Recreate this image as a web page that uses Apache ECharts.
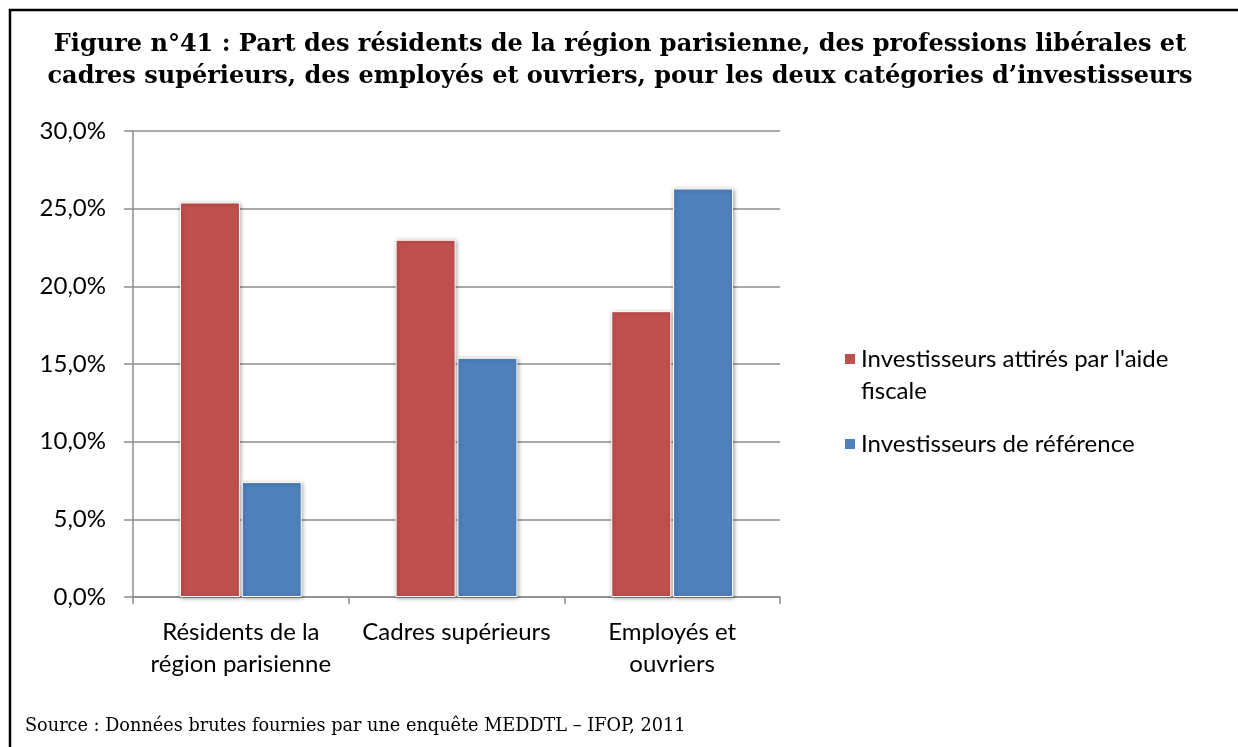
<!DOCTYPE html>
<html>
<head>
    <meta charset="UTF-8">
    <title></title>
    <script src="https://cdn.jsdelivr.net/npm/echarts@6/dist/echarts.min.js"></script>
    <style>
        html, body { margin: 0; padding: 0; background: #fff; }
    </style>
</head>
<body>
<div id="main" style="width: 1238px;height:747px;"></div>
<script type="text/javascript">
    // données
    var categories = ['Résidents de la\nrégion parisienne', 'Cadres supérieurs', 'Employés et\nouvriers'];
    var seriesNames = ["Investisseurs attirés par l'aide fiscale", 'Investisseurs de référence'];
    var aideFiscale = [25.4, 23.0, 18.4];
    var reference = [7.4, 15.4, 26.3];
    var yTicks = { min: 0, max: 30, interval: 5 };

    var titleText = 'Figure n°41 : Part des résidents de la région parisienne, des professions libérales et\ncadres supérieurs, des employés et ouvriers, pour les deux catégories d\u2019investisseurs';
    var sourceText = 'Source : Données brutes fournies par une enquête MEDDTL \u2013 IFOP, 2011';

    var sansFont = 'Lato';
    var serifFont = 'DejaVu Serif';

    var myChart = echarts.init(document.getElementById('main'));

    function barStyle(color) {
        return {
            color: color,
            borderColor: '#ffffff',
            borderWidth: 1,
            shadowBlur: 4,
            shadowColor: 'rgba(0,0,0,0.35)',
            shadowOffsetX: 1,
            shadowOffsetY: 1
        };
    }

    var legendText = { fontFamily: sansFont, fontSize: 24, lineHeight: 32, color: '#000' };

    var option = {
        animation: false,
        backgroundColor: '#ffffff',
        legend: [{
            orient: 'vertical',
            left: 838,
            top: 306,
            itemWidth: 12,
            itemHeight: 12,
            icon: 'rect',
            data: [seriesNames[0]],
            // ligne vide en tête : la 1re ligne reste alignée sur le carré
            formatter: function (name) {
                return '\n' + name.replace("l'aide fiscale", "l'aide\nfiscale");
            },
            textStyle: legendText
        }, {
            orient: 'vertical',
            left: 838,
            top: 423,
            itemWidth: 12,
            itemHeight: 12,
            icon: 'rect',
            data: [seriesNames[1]],
            textStyle: legendText
        }],
        grid: {
            left: 133,
            right: 458,
            top: 131,
            bottom: 150,
            containLabel: false
        },
        xAxis: {
            type: 'category',
            data: categories,
            axisLine: { lineStyle: { color: '#8c8c8c', width: 1.5 } },
            axisTick: { show: true, length: 7, lineStyle: { color: '#8c8c8c', width: 1.5 } },
            axisLabel: {
                margin: 19,
                fontFamily: sansFont,
                fontSize: 24,
                lineHeight: 32,
                color: '#000',
                interval: 0
            }
        },
        yAxis: {
            type: 'value',
            min: yTicks.min,
            max: yTicks.max,
            interval: yTicks.interval,
            axisLine: { show: true, lineStyle: { color: '#8c8c8c', width: 1.5 } },
            axisTick: { show: true, length: 9, lineStyle: { color: '#8c8c8c', width: 1.5 } },
            splitLine: { show: true, lineStyle: { color: '#8c8c8c', width: 1.5 } },
            axisLabel: {
                margin: 27,
                fontFamily: sansFont,
                fontSize: 24,
                color: '#000',
                formatter: function (v) {
                    return v.toFixed(1).replace('.', ',') + '%';
                }
            }
        },
        series: [{
            name: seriesNames[0],
            type: 'bar',
            data: aideFiscale,
            barWidth: 60,
            barGap: '3%',
            itemStyle: barStyle('#C0504D')
        }, {
            name: seriesNames[1],
            type: 'bar',
            data: reference,
            barWidth: 60,
            itemStyle: barStyle('#4F81BD')
        }],
        graphic: [{
            type: 'polyline',
            shape: { points: [[10, 747], [10, 10], [1238, 10]] },
            style: { stroke: '#000', lineWidth: 2.5, fill: null }
        }, {
            type: 'text',
            x: 620,
            y: 29,
            style: {
                text: titleText,
                align: 'center',
                verticalAlign: 'top',
                fontFamily: serifFont,
                fontWeight: 'bold',
                fontSize: 24,
                lineHeight: 32,
                fill: '#000'
            }
        }, {
            type: 'text',
            x: 25,
            y: 726,
            style: {
                text: sourceText,
                verticalAlign: 'middle',
                fontFamily: serifFont,
                fontSize: 17.7,
                fill: '#000'
            }
        }]
    };

    myChart.setOption(option);
</script>
</body>
</html>
